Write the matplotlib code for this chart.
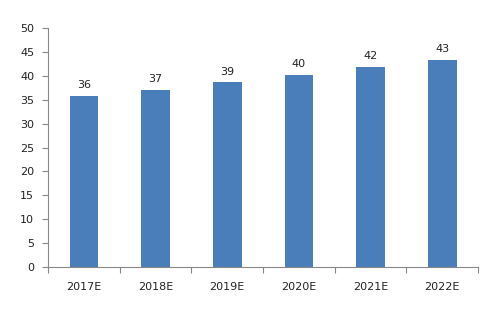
import matplotlib.pyplot as plt

years = ['2017E', '2018E', '2019E', '2020E', '2021E', '2022E']
values = [35.8, 37.0, 38.6, 40.2, 41.8, 43.4]
labels = ['36', '37', '39', '40', '42', '43']

fig = plt.figure(figsize=(4.98, 3.13), dpi=100)
ax = fig.add_axes([0.0964, 0.147, 0.8636, 0.7635])

x = range(len(years))
ax.bar(x, values, width=0.4, color='#4A7EBB')
for i, v in enumerate(values):
    ax.text(i, v + 1.2, labels[i], ha='center', va='bottom', fontsize=8, color='#222222')

ax.set_xlim(-0.5, len(years) - 0.5)
ax.set_ylim(0, 50)
ax.set_yticks(range(0, 51, 5))
ax.set_xticks([i - 0.5 for i in range(len(years) + 1)])
ax.set_xticklabels([])
ax.set_xticks(list(x), minor=True)
ax.set_xticklabels(years, minor=True)

ax.tick_params(axis='x', which='major', length=4, color='#888888', direction='out')
ax.tick_params(axis='x', which='minor', length=0, pad=11, labelsize=8, labelcolor='#222222')
ax.tick_params(axis='y', length=4, color='#888888', labelsize=8, labelcolor='#222222', pad=6)

for s in ['top', 'right']:
    ax.spines[s].set_visible(False)
for s in ['left', 'bottom']:
    ax.spines[s].set_color('#888888')
    ax.spines[s].set_linewidth(0.8)

fig.savefig('out.png', dpi=100)
